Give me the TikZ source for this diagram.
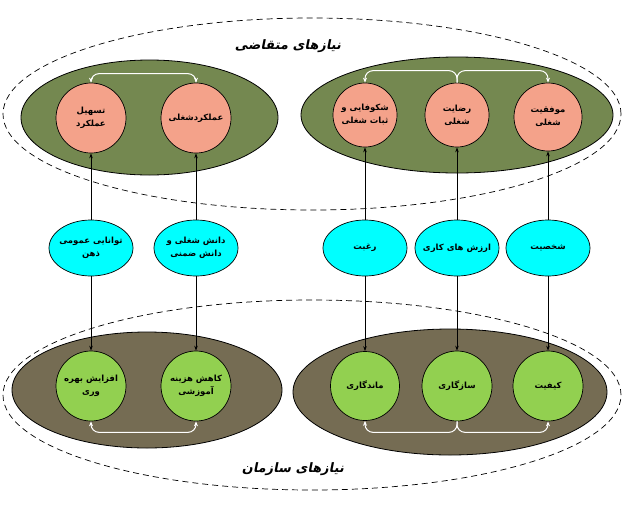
\documentclass[tikz,border=0pt]{standalone}
\usepackage{fontspec}
\usetikzlibrary{arrows.meta,shapes.geometric}
\TeXXeTstate=1
\newfontfamily\arabicfont[Script=Arabic]{DejaVu Sans}
\newfontfamily\titlefont[Script=Arabic,FakeSlant=0.2]{DejaVu Sans}
\newcommand\fa[1]{\beginR #1\endR}
\definecolor{topgreen}{RGB}{116,136,80}
\definecolor{botbrown}{RGB}{117,108,83}
\definecolor{salmon}{RGB}{244,162,138}
\definecolor{aqua}{RGB}{0,255,255}
\definecolor{lgreen}{RGB}{146,208,80}
\tikzset{
  wtip/.tip={Stealth[length=5pt,width=4pt]},
  group/.style={ellipse, draw=black, line width=0.8pt, inner sep=0pt},
  topgroup/.style={group, fill=topgreen},
  botgroup/.style={group, fill=botbrown},
  bubble/.style={draw=black, line width=0.7pt, inner sep=0pt, align=center,
    font=\arabicfont\bfseries\fontsize{8.5}{13}\selectfont},
  pinkc/.style={bubble, circle, fill=salmon},
  greenc/.style={bubble, circle, fill=lgreen},
  cyanc/.style={bubble, ellipse, fill=aqua, inner xsep=-10pt, minimum width=84pt, minimum height=56pt},
  arr/.style={line width=0.6pt, -{Stealth[length=5pt,width=3.5pt]}},
  warr/.style={white, line width=1pt, rounded corners=8pt},
  outline/.style={dashed, line width=0.7pt, dash pattern=on 6pt off 4pt},
  title/.style={font=\titlefont\bfseries\fontsize{13}{15}\selectfont}
}
\begin{document}
\begin{tikzpicture}[x=1pt,y=-1pt]
\useasboundingbox (0,0) rectangle (632,520);
% outer dashed outlines
\draw[outline] (312,114) ellipse [x radius=309pt, y radius=96pt];
\draw[outline] (312,395) ellipse [x radius=309pt, y radius=95pt];
% group ellipses
\node[topgroup, minimum width=257pt, minimum height=115pt] (TL) at (149.5,117.5) {};
\node[topgroup, minimum width=312pt, minimum height=116pt] (TR) at (457,115) {};
\node[botgroup, minimum width=270pt, minimum height=116pt] (BL) at (147,390) {};
\node[botgroup, minimum width=314pt, minimum height=126pt] (BR) at (450,392) {};
% titles
\node[title] (t1) at (288,46) {\fa{نیازهای متقاضی}};
\node[title] (t2) at (293,469) {\fa{نیازهای سازمان}};
% pink circles
\node[pinkc, minimum size=70pt] (p1) at (91,118) {\fa{تسهیل}\\\fa{عملکرد}};
\node[pinkc, minimum size=70pt] (p2) at (196,118) {\fa{عملکردشغلی}};
\node[pinkc, minimum size=64pt] (p3) at (365,115) {\fa{شکوفایی و}\\\fa{ثبات شغلی}};
\node[pinkc, minimum size=64pt] (p4) at (457,115) {\fa{رضایت}\\\fa{شغلی}};
\node[pinkc, minimum size=68pt] (p5) at (548,117) {\fa{موفقیت}\\\fa{شغلی}};
% cyan ellipses
\node[cyanc] (c1) at (91,248) {\fa{توانایی عمومی}\\\fa{ذهن}};
\node[cyanc] (c2) at (196,248) {\fa{دانش شغلی و}\\\fa{دانش ضمنی}};
\node[cyanc] (c3) at (365,248) {\fa{رغبت}};
\node[cyanc] (c4) at (457,248) {\fa{ارزش های کاری}};
\node[cyanc] (c5) at (548,248) {\fa{شخصیت}};
% green circles
\node[greenc, minimum size=70pt] (g1) at (91,386) {\fa{افزایش بهره}\\\fa{وری}};
\node[greenc, minimum size=70pt] (g2) at (196,386) {\fa{کاهش هزینه}\\\fa{آموزشی}};
\node[greenc, minimum size=69pt] (g3) at (365,386) {\fa{ماندگاری}};
\node[greenc, minimum size=70pt] (g4) at (457,386) {\fa{سازگاری}};
\node[greenc, minimum size=70pt] (g5) at (548,386) {\fa{کیفیت}};
% vertical connectors
\foreach \i in {1,...,5}{
  \draw[arr] (c\i.north) -- (p\i.south);
  \draw[arr] (c\i.south) -- (g\i.north);
}
% white links, top
\draw[warr, wtip-wtip] (p1.north) -- ([yshift=9pt]p1.north) -| (p2.north);
\draw[warr, -wtip] (p4.north) -- ([yshift=12pt]p4.north) -| (p3.north);
\draw[warr, -wtip] (p4.north) -- ([yshift=12pt]p4.north) -| (p5.north);
% white links, bottom
\draw[warr, wtip-wtip] (g1.south) -- ([yshift=-11pt]g1.south) -| (g2.south);
\draw[warr, -wtip] (g4.south) -- ([yshift=-11pt]g4.south) -| (g3.south);
\draw[warr, -wtip] (g4.south) -- ([yshift=-11pt]g4.south) -| (g5.south);
\end{tikzpicture}
\end{document}
